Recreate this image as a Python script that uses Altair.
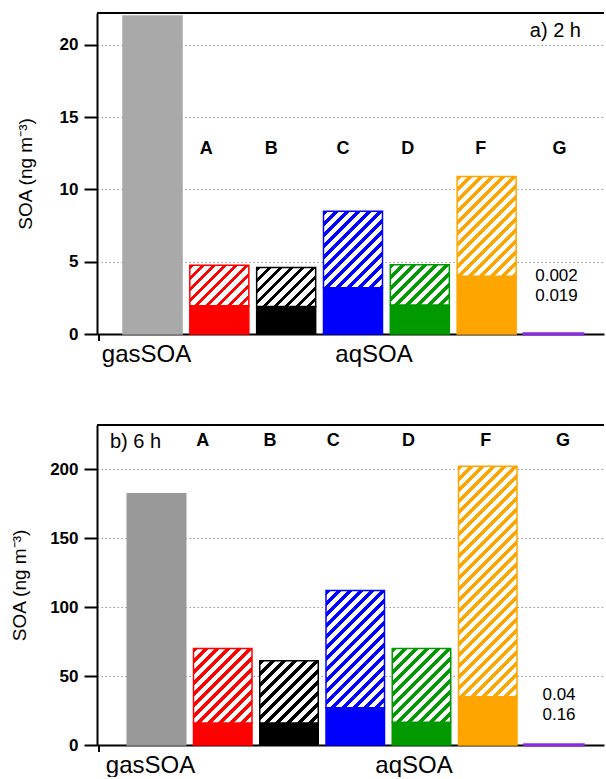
import altair as alt
import pandas as pd

# ---------------- data ----------------
categories = ["gasSOA", "A", "B", "C", "D", "F", "G"]
group_labels = ["gasSOA", "aqSOA"]

colors_2h = ["#A9A9A9", "#FF0000", "#000000", "#0000FF", "#009900", "#FFA500", "#8A2BE2"]
colors_6h = ["#999999", "#FF0000", "#000000", "#0000FF", "#009900", "#FFA500", "#8A2BE2"]

# solid (lower) part and hatched (upper) part of each bar, ng m-3
solid_2h = [22.0, 1.95, 1.9, 3.2, 2.0, 4.0, 0.019]
hatch_2h = [0.0, 2.8, 2.7, 5.3, 2.8, 6.9, 0.002]
solid_6h = [182.0, 16.0, 16.0, 27.0, 16.5, 35.0, 0.16]
hatch_6h = [0.0, 54.0, 45.0, 85.0, 53.5, 167.0, 0.04]

g_text_2h = ["0.002", "0.019"]
g_text_6h = ["0.04", "0.16"]

yticks_2h = [0, 5, 10, 15, 20]
yticks_6h = [0, 50, 100, 150, 200]

panel_titles = ["a) 2 h", "b) 6 h"]
y_title = "SOA (ng m⁻³)"

# ---------------- style / layout ----------------
FONT = "Liberation Sans"
PLOT_W = 507
HALF = 0.4415  # half bar width in category steps


def hatch_fill(color, w, h, period=11.0, frac=0.42):
    if h < 1.0:
        return color
    total = w + h
    c = total / (w * w + h * h)
    stops = []
    k = 0
    while k * period < total:
        a = k * period / total
        b = min((k * period + frac * period) / total, 1.0)
        e = min((k + 1) * period / total, 1.0)
        stops += [
            {"offset": round(a, 5), "color": color},
            {"offset": round(b, 5), "color": color},
            {"offset": round(b, 5), "color": "#FFFFFF"},
            {"offset": round(e, 5), "color": "#FFFFFF"},
        ]
        k += 1
    return {"gradient": "linear", "x1": 0, "y1": 0,
            "x2": round(c * w, 5), "y2": round(c * h, 5), "stops": stops}


def panel(solid, hatch, colors, ymax, H, c0, step, yticks, title_pad,
          group_pos, letter_dx, letter_y, gtext, gtext_dx, gtext_y,
          ptitle, ptitle_x, ptitle_y, ptitle_align):
    xdom = [-c0 / step, (PLOT_W - c0) / step]
    xs = alt.Scale(domain=xdom, nice=False, zero=False)
    ys = alt.Scale(domain=[0, ymax], nice=False, zero=False)

    idx = list(range(len(categories)))
    df = pd.DataFrame({
        "cat": categories,
        "col": colors,
        "idx": idx,
        "x0": [i - HALF for i in idx],
        "x1": [i + HALF for i in idx],
        "zero": [0.0] * len(idx),
        "solid": solid,
        "total": [s + h for s, h in zip(solid, hatch)],
    })

    xaxis = alt.Axis(
        values=group_pos,
        labelExpr=f"datum.value < 1 ? '{group_labels[0]}' : '{group_labels[1]}'",
        ticks=False, grid=False, title=None,
        domainColor="#000000", domainWidth=2,
        labelFont=FONT, labelFontSize=24, labelColor="#000000",
        labelPadding=8, labelFlush=False, labelOverlap=False,
    )
    yaxis = alt.Axis(
        values=yticks, title=y_title,
        titleFont=FONT, titleFontSize=19, titleFontWeight="normal",
        titleColor="#000000", titlePadding=title_pad,
        labelFont=FONT, labelFontSize=17, labelFontWeight="bold",
        labelColor="#000000", labelPadding=6,
        tickSize=13, tickWidth=2, tickColor="#000000",
        domainColor="#000000", domainWidth=2,
        grid=True, gridDash=[1.5, 2.5], gridColor="#9A9A9A", gridWidth=1,
    )

    base = alt.Chart(df)
    solid_layer = base.mark_bar().encode(
        x=alt.X("x0:Q", scale=xs, axis=xaxis),
        x2="x1:Q",
        y=alt.Y("solid:Q", scale=ys, axis=yaxis),
        y2="zero:Q",
        fill=alt.Fill("col:N", scale=None, legend=None),
        stroke=alt.Stroke("col:N", scale=None, legend=None),
        strokeWidth=alt.condition(alt.datum.cat == categories[-1], alt.value(3), alt.value(1.5)),
    )

    layers = [solid_layer]
    wpx = 2 * HALF * step
    for i in range(1, len(categories)):
        if hatch[i] <= 0:
            continue
        hpx = hatch[i] * H / ymax
        layers.append(
            alt.Chart(df.iloc[[i]]).mark_bar(
                fill=hatch_fill(colors[i], wpx, hpx),
                stroke=colors[i], strokeWidth=1.5,
            ).encode(
                x=alt.X("x0:Q", scale=xs, axis=xaxis),
                x2="x1:Q",
                y=alt.Y("total:Q", scale=ys, axis=yaxis),
                y2="solid:Q",
            )
        )

    # category letters
    ldf = pd.DataFrame({
        "lab": categories[1:],
        "lx": [i + dx / step for i, dx in zip(idx[1:], letter_dx)],
    })
    layers.append(
        alt.Chart(ldf).mark_text(font=FONT, fontSize=18, fontWeight="bold",
                                 color="#000000", baseline="middle", align="center").encode(
            x=alt.X("lx:Q", scale=xs, axis=xaxis),
            y=alt.value(letter_y),
            text="lab:N",
        )
    )

    # values of the tiny G bar
    gi = len(categories) - 1
    for t, yy in zip(gtext, gtext_y):
        gdf = pd.DataFrame({"gx": [gi + gtext_dx / step], "t": [t]})
        layers.append(
            alt.Chart(gdf).mark_text(font=FONT, fontSize=17, color="#000000",
                                     baseline="middle", align="center").encode(
                x=alt.X("gx:Q", scale=xs, axis=xaxis),
                y=alt.value(yy),
                text="t:N",
            )
        )

    # panel title
    pdf = pd.DataFrame({"t": [ptitle]})
    layers.append(
        alt.Chart(pdf).mark_text(font=FONT, fontSize=20, color="#000000",
                                 baseline="middle", align=ptitle_align).encode(
            x=alt.value(ptitle_x), y=alt.value(ptitle_y), text="t:N",
        )
    )

    # top frame line
    layers.append(
        alt.Chart(pdf).mark_rule(color="#000000", strokeWidth=2).encode(
            x=alt.value(0), x2=alt.value(PLOT_W), y=alt.value(0),
        )
    )
    # small tick at the left end of the category axis
    layers.append(
        alt.Chart(pdf).mark_rule(color="#000000", strokeWidth=2).encode(
            x=alt.value(2), y=alt.value(H + 1), y2=alt.value(H + 7),
        )
    )

    return alt.layer(*layers).properties(width=PLOT_W, height=H)


top = panel(solid_2h, hatch_2h, colors_2h, ymax=22.21, H=321, c0=55.5, step=66.83,
            yticks=yticks_2h, title_pad=24, group_pos=[-0.097, 3.307],
            letter_dx=[-13, -15, -10, -12, -6, 6], letter_y=136,
            gtext=g_text_2h, gtext_dx=3, gtext_y=[263, 283],
            ptitle=panel_titles[0], ptitle_x=484, ptitle_y=18, ptitle_align="right")

bottom = panel(solid_6h, hatch_6h, colors_6h, ymax=231.9, H=320, c0=59.5, step=66.25,
               yticks=yticks_6h, title_pad=20, group_pos=[-0.098, 3.88],
               letter_dx=[-20, -19, -22, -13, -2, 9], letter_y=16,
               gtext=g_text_6h, gtext_dx=5, gtext_y=[270, 290],
               ptitle=panel_titles[1], ptitle_x=13, ptitle_y=17, ptitle_align="left")

chart = alt.vconcat(top, bottom, spacing=58).properties(
    padding={"top": 12, "left": 10, "right": 0, "bottom": 0},
    background="#FFFFFF",
).configure_view(strokeWidth=0)

chart.save("out.html", embed_options={"renderer": "svg", "actions": False})
